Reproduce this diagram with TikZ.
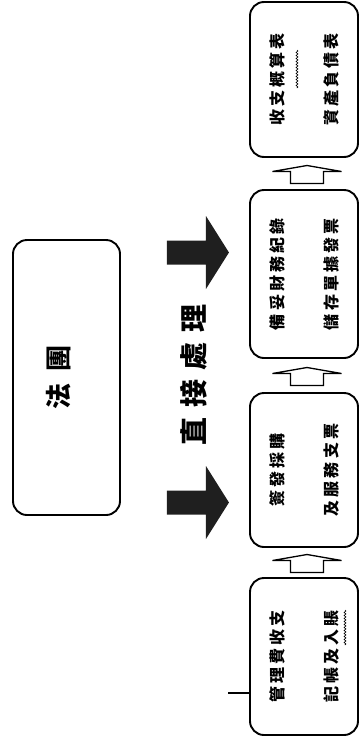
\documentclass[tikz,border=0pt]{standalone}
\usepackage{fontspec}
\newfontfamily\cjk{Noto Sans CJK TC}
\usetikzlibrary{calc, decorations.pathmorphing}

\tikzset{
  stepbox/.style = {draw, line width=1.9pt, rounded corners=14pt, rotate=90,
    minimum height=108pt, inner sep=0pt, align=center,
    font=\cjk\bfseries\fontsize{16}{54}\selectfont\addfontfeatures{LetterSpace=20}},
  hollow/.style = {draw, line width=1.3pt, fill=white},
  bigarrow/.style = {fill=black!88},
  squiggle/.style = {decorate, decoration={snake, segment length=3pt, amplitude=1pt}, line width=0.6pt},
}

\begin{document}
\begin{tikzpicture}[x=1pt, y=-1pt]
  \useasboundingbox (0,0) rectangle (359,742);

  \node [stepbox, minimum width=155pt] (report) at (304,79.5) {收支概算表\\資產負債表};
  \node [stepbox, minimum width=168pt] (records) at (304,274) {備妥財務紀錄\\儲存單據發票};
  \node [stepbox, minimum width=154pt] (cheques) at (304,470) {簽發採購\\及服務支票};
  \node [stepbox, minimum width=157pt] (accounts) at (304,656.5) {管理費收支\\記帳及入賬};

  \node [stepbox, minimum width=275pt, minimum height=107pt,
         font=\cjk\bfseries\fontsize{26}{30}\selectfont\addfontfeatures{LetterSpace=45}]
        (corp) at (66.5,377.5) {\raisebox{-2pt}[0pt][0pt]{法團}};

  \node [rotate=90, font=\cjk\bfseries\fontsize{28}{30}\selectfont\addfontfeatures{LetterSpace=35}]
        (direct) at (194,375) {直接處理};

  % hollow arrows between the boxes
  \foreach \lo/\hi in {accounts/cheques, cheques/records, records/report} {
    \draw [hollow] ($(\lo.east)!0.5!(\hi.west)+(3,0)$) ++(-16.5,10) -- ++(0,-12) -- ++(-18,0)
      -- ++(34.5,-6) -- ++(34.5,6) -- ++(-18,0) -- ++(0,12) -- cycle;
  }

  % black arrows from the corporation
  \coordinate (tip1) at ($(corp.south)+(108,-125)$);
  \coordinate (tip2) at ($(corp.south)+(108,125)$);
  \foreach \t in {tip1, tip2} {
    \fill [bigarrow] (\t) -- ++(-23,-36.5) -- ++(0,24.5) -- ++(-39,0) -- ++(0,24)
      -- ++(39,0) -- ++(0,24.5) -- cycle;
  }

  \coordinate (lead) at (228,693);
  \draw [line width=1.2pt] (lead) -- (accounts.north |- lead);

  \draw [squiggle] ($(report.center)+(-7,-29.5)$) -- ++(0,38);
  \draw [squiggle] ($(accounts.center)+(41,-46.5)$) -- ++(0,35);
\end{tikzpicture}
\end{document}
